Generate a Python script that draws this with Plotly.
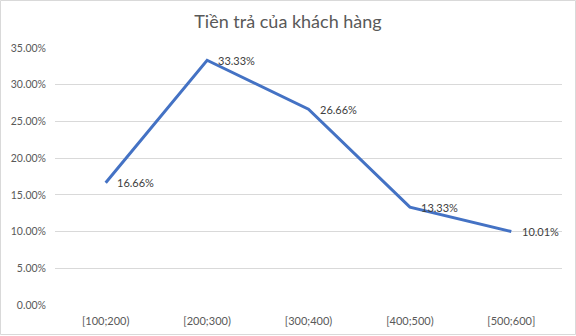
import plotly.graph_objects as go

categories = ["[100;200)", "[200;300)", "[300;400)", "[400;500)", "[500;600]"]
values = [0.1666, 0.3333, 0.2666, 0.1333, 0.1001]
labels = ["16.66%", "33.33%", "26.66%", "13.33%", "10.01%"]
title = "Tiền trả của khách hàng"

W, H = 576, 336
L, R, T, B = 55, 14, 48, 31
pw, ph = W - L - R, H - T - B

fig = go.Figure()
fig.add_trace(go.Scatter(
    x=categories, y=values, mode="lines",
    line=dict(color="#4472C4", width=3),
    cliponaxis=False, hoverinfo="skip", showlegend=False,
))

annotations = [
    dict(x=c, y=v, text=t, xref="x", yref="y", showarrow=False,
         xanchor="left", yanchor="middle", xshift=9,
         font=dict(family="Lato, Liberation Sans", size=11, color="#404040"))
    for c, v, t in zip(categories, values, labels)
]

fig.update_layout(
    width=W, height=H,
    margin=dict(l=L, r=R, t=T, b=B),
    paper_bgcolor="white", plot_bgcolor="white",
    title=dict(text=title, x=0.5, xanchor="center", y=1 - 22 / H, yanchor="middle",
               font=dict(family="Lato, Liberation Sans", size=18, color="#595959")),
    font=dict(family="Lato, Liberation Sans", size=11, color="#595959"),
    xaxis=dict(type="category", range=[-0.5, 4.5], showgrid=False, showline=False,
               ticks="", zeroline=False, fixedrange=True, ticklabelstandoff=8,
               automargin=False,
               tickfont=dict(size=11, color="#595959")),
    yaxis=dict(range=[0, 0.35], dtick=0.05, tickformat=".2%", showgrid=True,
               gridcolor="#D9D9D9", gridwidth=1, zeroline=False, showline=False,
               ticks="", ticklen=0, fixedrange=True, ticklabelstandoff=8,
               automargin=False,
               tickfont=dict(size=10.5, color="#595959")),
    annotations=annotations,
    shapes=[dict(type="rect", xref="paper", yref="paper",
                 x0=-(L - 0.5) / pw, x1=1 + (R - 0.5) / pw,
                 y0=-(B - 1.5) / ph, y1=1 + (T - 0.5) / ph,
                 line=dict(color="#D9D9D9", width=1), layer="below")],
)

fig.write_html("out.html")
